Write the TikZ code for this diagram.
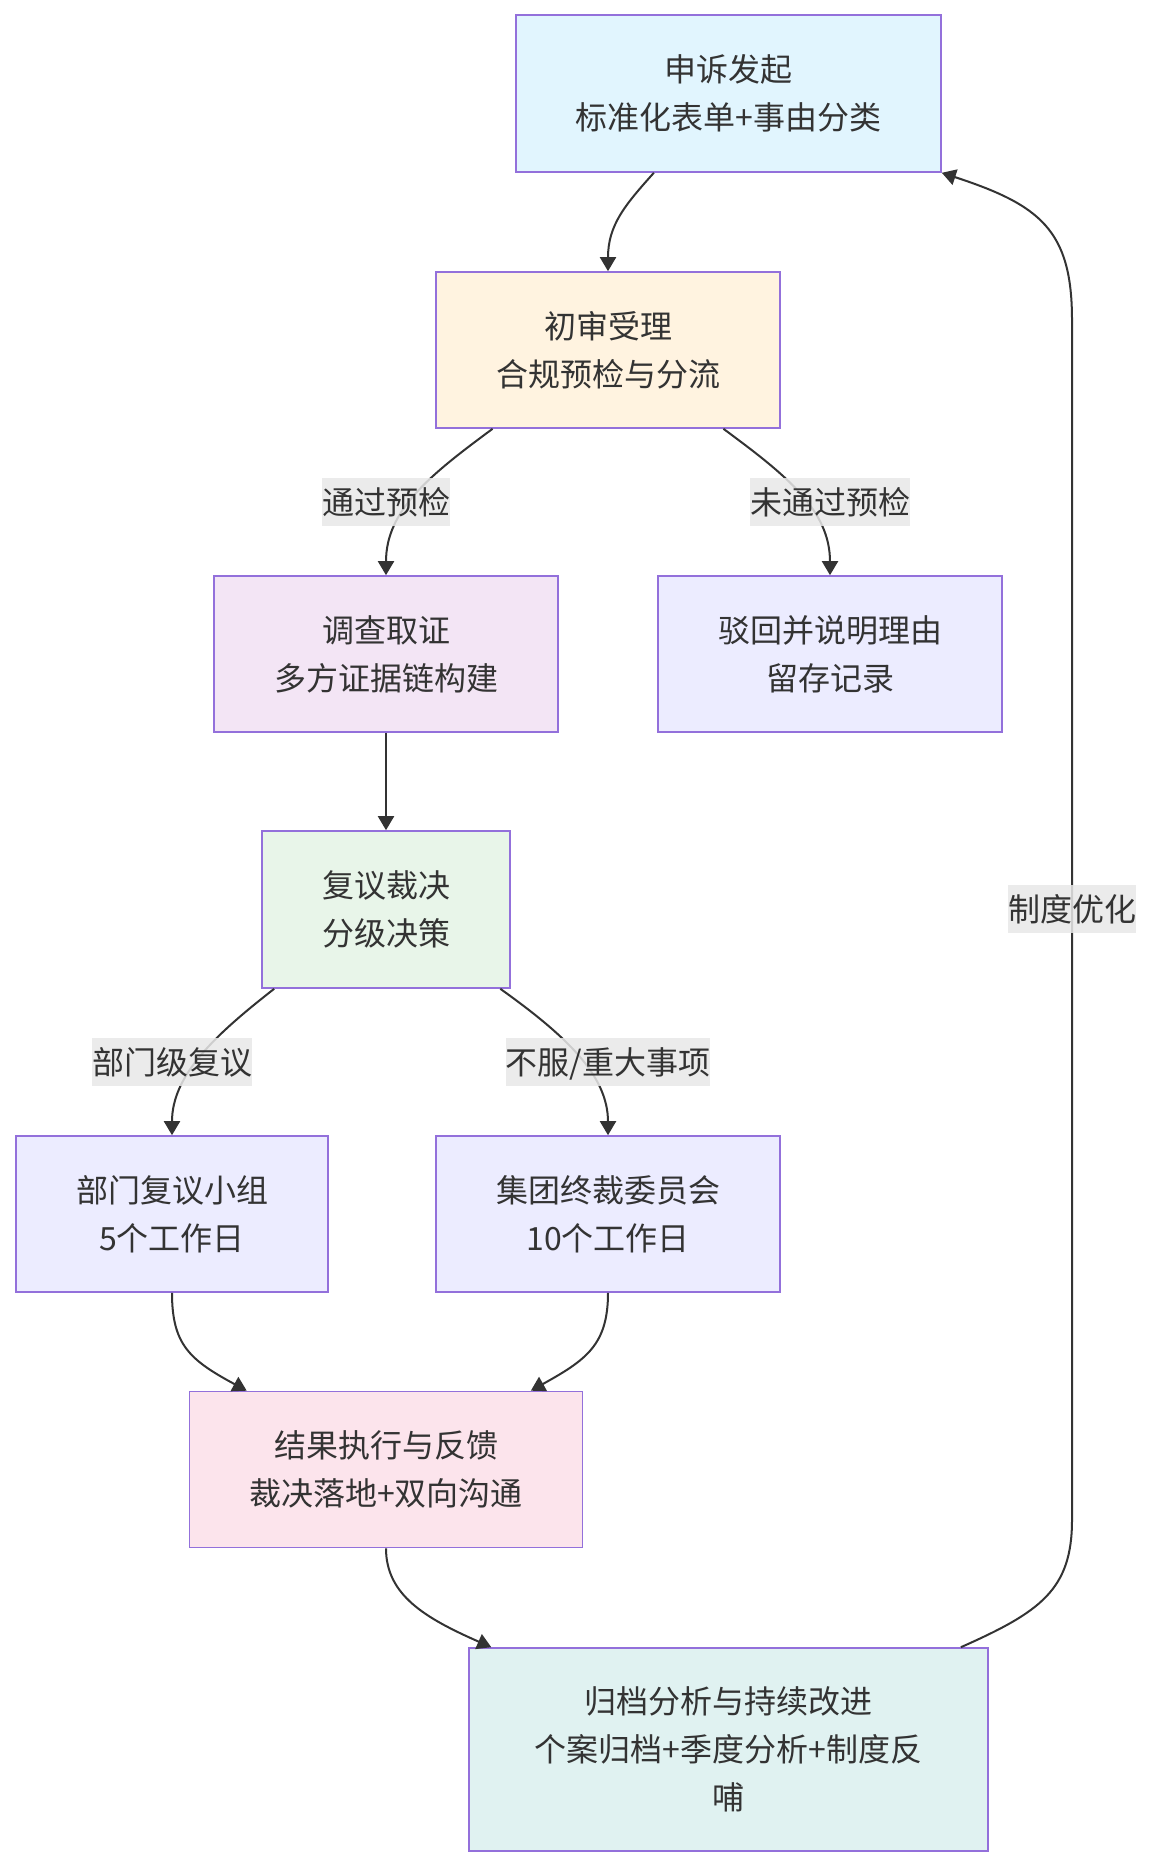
\documentclass[tikz,border=0pt]{standalone}
\usepackage{fontspec}
\newfontfamily\cjk{Noto Sans CJK SC}
\usetikzlibrary{arrows.meta,calc}
\definecolor{txt}{HTML}{333333}
\definecolor{bord}{HTML}{9370DB}
\definecolor{cA}{HTML}{E1F5FE}
\definecolor{cB}{HTML}{FFF3E0}
\definecolor{cC}{HTML}{F3E5F5}
\definecolor{cD}{HTML}{ECECFF}
\definecolor{cE}{HTML}{E8F5E9}
\definecolor{cF}{HTML}{FCE4EC}
\definecolor{cG}{HTML}{E0F2F1}
\definecolor{lblbg}{HTML}{E8E8E8}
\begin{document}
\begin{tikzpicture}[x=1pt,y=-1pt,
  box/.style={draw=bord,line width=1.6pt,rectangle,inner sep=0pt,align=center,
    text=txt,font=\cjk\fontsize{32}{48}\selectfont},
  lbl/.style={fill=lblbg,fill opacity=0.85,text opacity=1,text=txt,inner xsep=0pt,inner ysep=0pt,
    text height=36pt,text depth=12pt,font=\cjk\fontsize{32}{48}\selectfont},
  edge/.style={draw=txt,line width=2pt,-{Triangle[length=14pt,width=16pt]}}]
\useasboundingbox (0,0) rectangle (1152,1868);

\node[box,fill=cA,minimum width=425pt,minimum height=157pt] (n1) at (728.5,93.5) {申诉发起\\标准化表单+事由分类};
\node[box,fill=cB,minimum width=344pt,minimum height=156pt] (n2) at (608,350) {初审受理\\合规预检与分流};
\node[box,fill=cC,minimum width=344pt,minimum height=156pt] (n3) at (386,654) {调查取证\\多方证据链构建};
\node[box,fill=cD,minimum width=344pt,minimum height=156pt] (n4) at (830,654) {驳回并说明理由\\留存记录};
\node[box,fill=cE,minimum width=248pt,minimum height=157pt] (n5) at (386,909.5) {复议裁决\\分级决策};
\node[box,fill=cD,minimum width=312pt,minimum height=156pt] (n6) at (172,1214) {部门复议小组\\5个工作日};
\node[box,fill=cD,minimum width=344pt,minimum height=156pt] (n7) at (608,1214) {集团终裁委员会\\10个工作日};
\node[box,fill=cF,minimum width=393pt,minimum height=156pt] (n8) at (386,1469.5) {结果执行与反馈\\裁决落地+双向沟通};
\node[box,fill=cG,minimum width=519pt,minimum height=203pt] (n9) at (728.7,1749.5) {归档分析与持续改进\\个案归档+季度分析+制度反\\哺};

\draw[edge] ($(n1.south west)!0.325!(n1.south east)$) .. controls (625,205) and (608,225) .. (n2.north);
\draw[edge] ($(n2.south west)!0.166!(n2.south east)$) .. controls (430,475) and (386,510) .. (n3.north);
\draw[edge] ($(n2.south west)!0.834!(n2.south east)$) .. controls (786,475) and (830,510) .. (n4.north);
\draw[edge] (n3.south) -- (n5.north);
\draw[edge] ($(n5.south west)!0.052!(n5.south east)$) .. controls (215,1035) and (172,1075) .. (n6.north);
\draw[edge] ($(n5.south west)!0.958!(n5.south east)$) .. controls (565,1035) and (608,1075) .. (n7.north);
\draw[edge] (n6.south) .. controls (172,1345) and (190,1360) .. ($(n8.north west)!0.147!(n8.north east)$);
\draw[edge] (n7.south) .. controls (608,1345) and (586,1360) .. ($(n8.north west)!0.867!(n8.north east)$);
\draw[edge] (n8.south) .. controls (386,1595) and (425,1618) .. ($(n9.north west)!0.044!(n9.north east)$);
\draw[edge] ($(n9.north west)!0.946!(n9.north east)$) .. controls (1040,1612) and (1072,1590) .. (1072,1520)
  -- (1072,320) .. controls (1072,230) and (1040,205) .. (n1.south east);

\node[lbl] (l1) at (386,502) {通过预检};
\node[lbl] (l2) at (830,502) {未通过预检};
\node[lbl] (l3) at (172,1062) {部门级复议};
\node[lbl] (l4) at (608,1062) {不服/重大事项};
\node[lbl] (l5) at (1072,909) {制度优化};
\end{tikzpicture}
\end{document}
